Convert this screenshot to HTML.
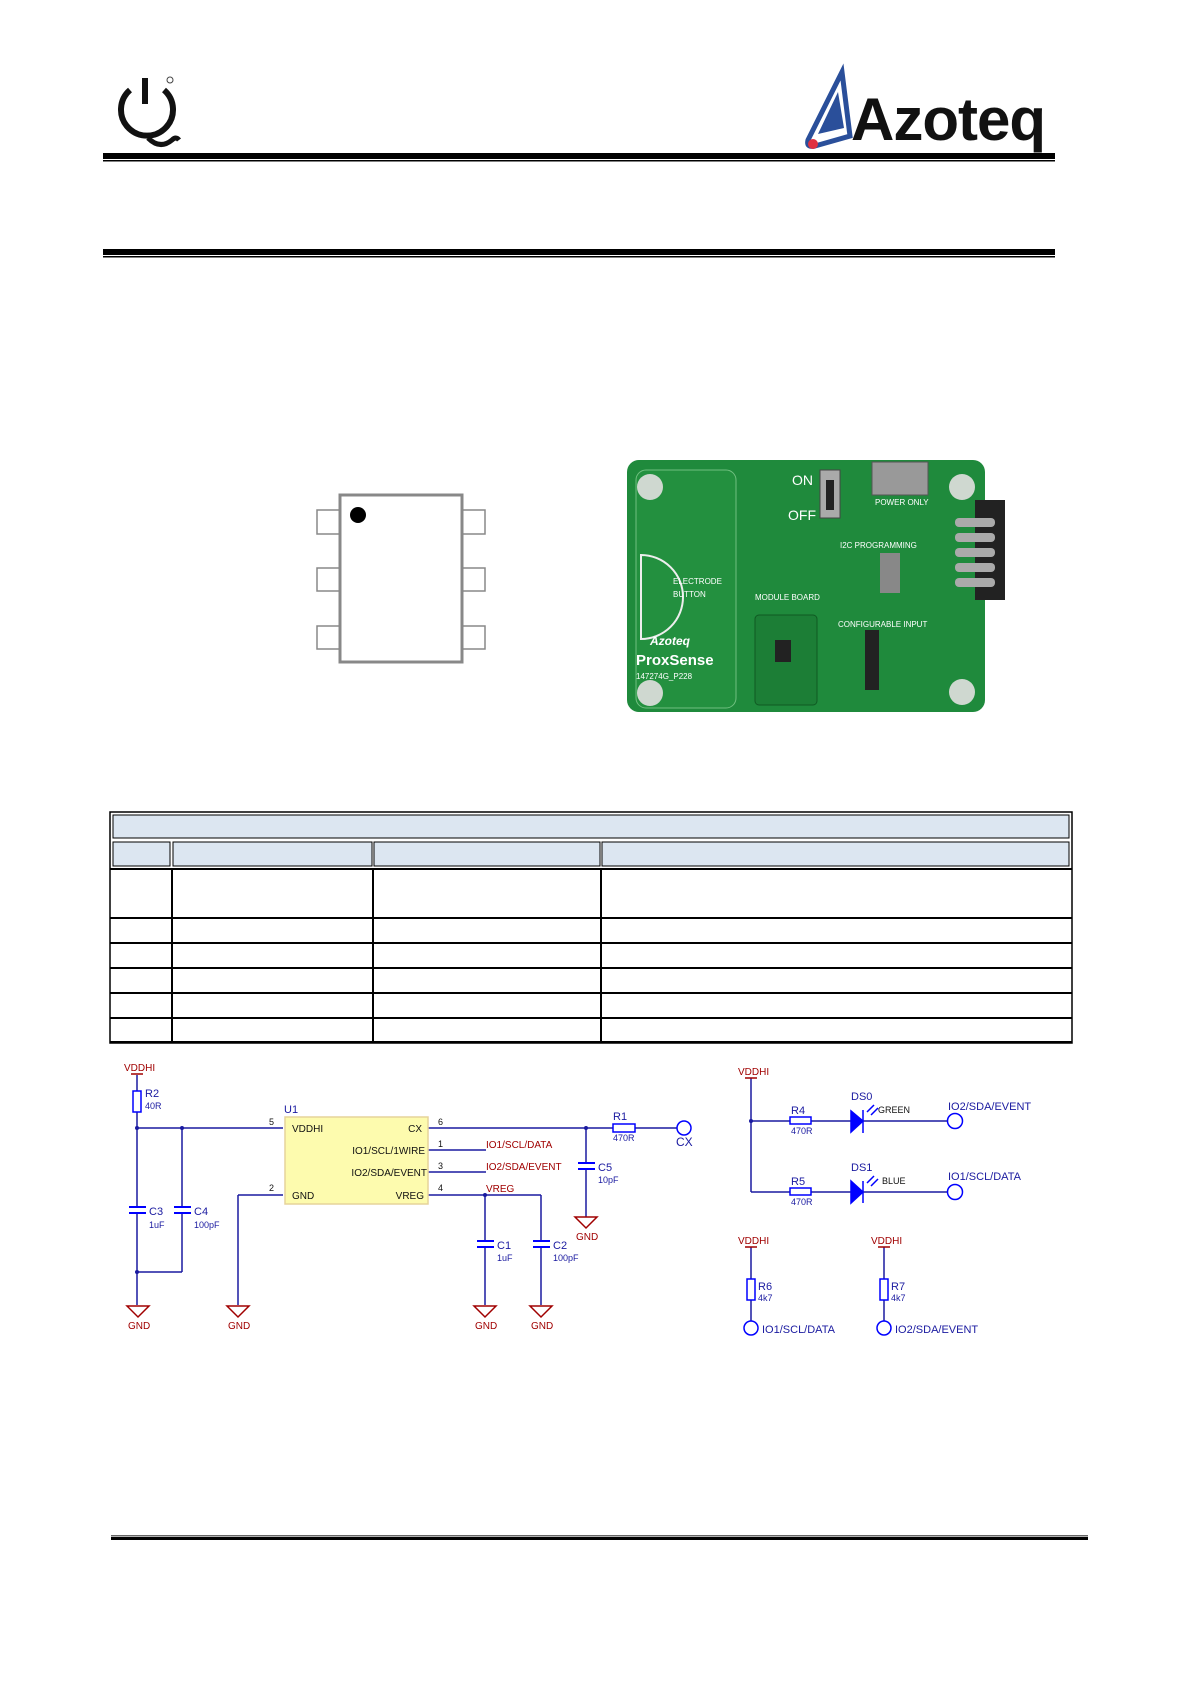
<!DOCTYPE html>
<html><head><meta charset="utf-8"><style>
html,body{margin:0;padding:0;background:#fff}
svg{display:block}
text{font-family:"Liberation Sans",Arial,sans-serif}
</style></head><body>
<svg width="1192" height="1684" viewBox="0 0 1192 1684" xmlns="http://www.w3.org/2000/svg">
<rect x="142" y="78" width="6" height="26" fill="#111"/>
<path d="M130 90 A26 26 0 1 0 164 90" fill="none" stroke="#111" stroke-width="6"/>
<path d="M148 138 Q160 150 172 140 Q176 136 179 140" fill="none" stroke="#111" stroke-width="5"/>
<circle cx="170" cy="80" r="3" fill="none" stroke="#444" stroke-width="1"/>
<path d="M842 72 L808 140 Q806 148 815 146 L850 136 Z" fill="#fff" stroke="#2a4f9a" stroke-width="5"/>
<path d="M838 92 L818 134 L844 128 Z" fill="#2a4f9a"/>
<circle cx="813" cy="144" r="5" fill="#e03040"/>
<text x="851" y="140" font-size="60" font-weight="bold" fill="#111" letter-spacing="-1">Azoteq</text>
<rect x="103" y="153" width="952" height="6" fill="#000"/>
<rect x="103" y="160" width="952" height="1.5" fill="#000"/>
<rect x="103" y="249" width="952" height="6" fill="#000"/>
<rect x="103" y="256" width="952" height="1.5" fill="#000"/>
<g fill="#fff" stroke="#888" stroke-width="1.5">
<rect x="317" y="510" width="23" height="24"/><rect x="317" y="568" width="23" height="23"/><rect x="317" y="626" width="23" height="23"/>
<rect x="462" y="510" width="23" height="24"/><rect x="462" y="568" width="23" height="23"/><rect x="462" y="626" width="23" height="23"/>
</g>
<rect x="340" y="495" width="122" height="167" fill="#fff" stroke="#888" stroke-width="3"/>
<circle cx="358" cy="515" r="8" fill="#000"/>
<rect x="627" y="460" width="358" height="252" rx="12" fill="#1f8a3c"/>
<rect x="636" y="470" width="100" height="238" rx="10" fill="#23903f" stroke="#6fbf7f" stroke-width="1"/>
<path d="M641 555 A42 42 0 0 1 641 639 Z" fill="none" stroke="#eee" stroke-width="2"/>
<circle cx="650" cy="487" r="13" fill="#cfd8d0"/><circle cx="650" cy="693" r="13" fill="#cfd8d0"/>
<circle cx="962" cy="487" r="13" fill="#cfd8d0"/><circle cx="962" cy="692" r="13" fill="#cfd8d0"/>
<rect x="820" y="470" width="20" height="48" fill="#aaa" stroke="#444"/>
<rect x="826" y="480" width="8" height="30" fill="#222"/>
<rect x="872" y="462" width="56" height="33" fill="#999" stroke="#555"/>
<rect x="975" y="500" width="30" height="100" fill="#222"/>
<g fill="#aaa"><rect x="955" y="518" width="40" height="9" rx="4"/><rect x="955" y="533" width="40" height="9" rx="4"/><rect x="955" y="548" width="40" height="9" rx="4"/><rect x="955" y="563" width="40" height="9" rx="4"/><rect x="955" y="578" width="40" height="9" rx="4"/></g>
<rect x="880" y="553" width="20" height="40" fill="#888"/>
<rect x="755" y="615" width="62" height="90" rx="4" fill="#1c7e36" stroke="#0f5a22"/>
<rect x="775" y="640" width="16" height="22" fill="#222"/>
<rect x="865" y="630" width="14" height="60" fill="#222"/>
<g fill="#fff" font-size="8">
<text x="792" y="485" font-size="14">ON</text><text x="788" y="520" font-size="14">OFF</text>
<text x="875" y="505">POWER ONLY</text><text x="840" y="548">I2C PROGRAMMING</text>
<text x="755" y="600">MODULE BOARD</text><text x="838" y="627">CONFIGURABLE INPUT</text>
<text x="673" y="584">ELECTRODE</text><text x="673" y="597">BUTTON</text>
<text x="650" y="645" font-size="12" font-weight="bold" font-style="italic">Azoteq</text>
<text x="636" y="665" font-size="15" font-weight="bold">ProxSense</text>
<text x="636" y="679" font-size="8">147274G_P228</text>
</g>
<g fill="#dce6f1" stroke="#000" stroke-width="1">
<rect x="110" y="812" width="962" height="231" fill="#fff" stroke-width="1.5"/>
<rect x="113" y="815" width="956" height="23"/>
<rect x="113" y="842" width="57" height="24"/><rect x="173" y="842" width="199" height="24"/>
<rect x="374" y="842" width="226" height="24"/><rect x="602" y="842" width="467" height="24"/>
</g>
<g stroke="#000" stroke-width="2">
<line x1="110" y1="869" x2="1072" y2="869"/><line x1="110" y1="918" x2="1072" y2="918"/>
<line x1="110" y1="943" x2="1072" y2="943"/><line x1="110" y1="968" x2="1072" y2="968"/>
<line x1="110" y1="993" x2="1072" y2="993"/><line x1="110" y1="1018" x2="1072" y2="1018"/>
<line x1="110" y1="1042" x2="1072" y2="1042"/>
<line x1="172" y1="869" x2="172" y2="1042"/><line x1="373" y1="869" x2="373" y2="1042"/>
<line x1="601" y1="869" x2="601" y2="1042"/>
</g>
<g fill="none" stroke="#1a1aa0" stroke-width="1.5">
<line x1="137" y1="1075" x2="137" y2="1091"/><line x1="137" y1="1112" x2="137" y2="1305"/>
<line x1="137" y1="1128" x2="283" y2="1128"/>
<line x1="182" y1="1128" x2="182" y2="1272"/><line x1="137" y1="1272" x2="182" y2="1272"/>
<line x1="238" y1="1195" x2="283" y2="1195"/><line x1="238" y1="1195" x2="238" y2="1305"/>
<line x1="428" y1="1128" x2="613" y2="1128"/><line x1="635" y1="1128" x2="677" y2="1128"/>
<line x1="428" y1="1150" x2="486" y2="1150"/><line x1="428" y1="1172" x2="486" y2="1172"/>
<line x1="428" y1="1195" x2="541" y2="1195"/>
<line x1="485" y1="1195" x2="485" y2="1305"/><line x1="541" y1="1195" x2="541" y2="1305"/>
<line x1="586" y1="1128" x2="586" y2="1217"/>
</g>
<g fill="#1a1aa0"><circle cx="137" cy="1128" r="2"/><circle cx="182" cy="1128" r="2"/><circle cx="137" cy="1272" r="2"/><circle cx="485" cy="1195" r="2"/><circle cx="586" cy="1128" r="2"/></g>
<g fill="#fff"><rect x="128" y="1208" width="20" height="5"/><rect x="173" y="1208" width="20" height="5"/><rect x="476" y="1242" width="20" height="5"/><rect x="532" y="1242" width="20" height="5"/><rect x="577" y="1164" width="20" height="5"/></g>
<g stroke="#0000ff" stroke-width="2">
<line x1="129" y1="1207" x2="146" y2="1207"/><line x1="129" y1="1213" x2="146" y2="1213"/>
<line x1="174" y1="1207" x2="191" y2="1207"/><line x1="174" y1="1213" x2="191" y2="1213"/>
<line x1="477" y1="1241" x2="494" y2="1241"/><line x1="477" y1="1247" x2="494" y2="1247"/>
<line x1="533" y1="1241" x2="550" y2="1241"/><line x1="533" y1="1247" x2="550" y2="1247"/>
<line x1="578" y1="1163" x2="595" y2="1163"/><line x1="578" y1="1169" x2="595" y2="1169"/>
</g>
<g fill="#fff" stroke="#0000ff" stroke-width="1.5">
<rect x="133" y="1091" width="8" height="21"/><rect x="613" y="1124" width="22" height="8"/>
<circle cx="684" cy="1128" r="7"/>
</g>
<g stroke="#a00000" stroke-width="1.5" fill="none">
<line x1="131" y1="1074" x2="143" y2="1074"/>
<path d="M127 1306 L149 1306 L138 1317 Z"/><path d="M227 1306 L249 1306 L238 1317 Z"/>
<path d="M474 1306 L496 1306 L485 1317 Z"/><path d="M530 1306 L552 1306 L541 1317 Z"/>
<path d="M575 1217 L597 1217 L586 1228 Z"/>
</g>
<rect x="285" y="1117" width="143" height="87" fill="#fdfbae" stroke="#e6d49a" stroke-width="1.5"/>
<g font-size="10" fill="#a00000">
<text x="124" y="1071">VDDHI</text>
<text x="128" y="1329">GND</text><text x="228" y="1329">GND</text><text x="475" y="1329">GND</text><text x="531" y="1329">GND</text><text x="576" y="1240">GND</text>
<text x="486" y="1148">IO1/SCL/DATA</text><text x="486" y="1170">IO2/SDA/EVENT</text><text x="486" y="1192">VREG</text>
</g>
<g font-size="11" fill="#1a1aa0">
<text x="145" y="1097">R2</text><text x="145" y="1109" font-size="9">40R</text>
<text x="149" y="1215">C3</text><text x="149" y="1228" font-size="9">1uF</text>
<text x="194" y="1215">C4</text><text x="194" y="1228" font-size="9">100pF</text>
<text x="497" y="1249">C1</text><text x="497" y="1261" font-size="9">1uF</text>
<text x="553" y="1249">C2</text><text x="553" y="1261" font-size="9">100pF</text>
<text x="598" y="1171">C5</text><text x="598" y="1183" font-size="9">10pF</text>
<text x="613" y="1120">R1</text><text x="613" y="1141" font-size="9">470R</text>
<text x="676" y="1146" font-size="12">CX</text>
<text x="284" y="1113">U1</text>
</g>
<g font-size="10" fill="#111">
<text x="292" y="1132">VDDHI</text><text x="292" y="1199">GND</text>
<text x="422" y="1132" text-anchor="end">CX</text><text x="425" y="1154" text-anchor="end">IO1/SCL/1WIRE</text>
<text x="427" y="1176" text-anchor="end">IO2/SDA/EVENT</text><text x="424" y="1199" text-anchor="end">VREG</text>
<g font-size="9"><text x="269" y="1125">5</text><text x="269" y="1191">2</text><text x="438" y="1125">6</text><text x="438" y="1147">1</text><text x="438" y="1169">3</text><text x="438" y="1191">4</text></g>
</g>
<g fill="none" stroke="#1a1aa0" stroke-width="1.5">
<line x1="751" y1="1078" x2="751" y2="1192"/>
<line x1="751" y1="1121" x2="790" y2="1121"/><line x1="811" y1="1121" x2="851" y2="1121"/><line x1="863" y1="1121" x2="948" y2="1121"/>
<line x1="751" y1="1192" x2="790" y2="1192"/><line x1="811" y1="1192" x2="851" y2="1192"/><line x1="863" y1="1192" x2="948" y2="1192"/>
<line x1="751" y1="1247" x2="751" y2="1279"/><line x1="751" y1="1300" x2="751" y2="1321"/>
<line x1="884" y1="1247" x2="884" y2="1279"/><line x1="884" y1="1300" x2="884" y2="1321"/>
</g>
<circle cx="751" cy="1121" r="2" fill="#1a1aa0"/>
<g fill="#fff" stroke="#0000ff" stroke-width="1.5">
<rect x="790" y="1117" width="21" height="7"/><rect x="790" y="1188" width="21" height="7"/>
<rect x="747" y="1279" width="8" height="21"/><rect x="880" y="1279" width="8" height="21"/>
<circle cx="955" cy="1121" r="7.5"/><circle cx="955" cy="1192" r="7.5"/>
<circle cx="751" cy="1328" r="7"/><circle cx="884" cy="1328" r="7"/>
</g>
<g fill="#0000ff" stroke="#0000ff" stroke-width="1.5">
<path d="M851 1111 L863 1121 L851 1132 Z"/><line x1="863" y1="1110" x2="863" y2="1133"/>
<path d="M851 1181 L863 1192 L851 1203 Z"/><line x1="863" y1="1181" x2="863" y2="1203"/>
<line x1="867" y1="1112" x2="874" y2="1105"/><line x1="871" y1="1115" x2="878" y2="1108"/>
<line x1="867" y1="1183" x2="874" y2="1176"/><line x1="871" y1="1186" x2="878" y2="1179"/>
</g>
<g stroke="#a00000" stroke-width="1.5"><line x1="745" y1="1078" x2="757" y2="1078"/><line x1="745" y1="1247" x2="757" y2="1247"/><line x1="878" y1="1247" x2="890" y2="1247"/></g>
<g font-size="10" fill="#a00000"><text x="738" y="1075">VDDHI</text><text x="738" y="1244">VDDHI</text><text x="871" y="1244">VDDHI</text></g>
<g font-size="11" fill="#1a1aa0">
<text x="791" y="1114">R4</text><text x="791" y="1134" font-size="9">470R</text>
<text x="791" y="1185">R5</text><text x="791" y="1205" font-size="9">470R</text>
<text x="851" y="1100">DS0</text><text x="851" y="1171">DS1</text>
<text x="948" y="1110">IO2/SDA/EVENT</text><text x="948" y="1180">IO1/SCL/DATA</text>
<text x="758" y="1290">R6</text><text x="758" y="1301" font-size="9">4k7</text>
<text x="891" y="1290">R7</text><text x="891" y="1301" font-size="9">4k7</text>
<text x="762" y="1333">IO1/SCL/DATA</text><text x="895" y="1333">IO2/SDA/EVENT</text>
</g>
<g font-size="9" fill="#111"><text x="878" y="1113">GREEN</text><text x="882" y="1184">BLUE</text></g>
<rect x="111" y="1535" width="977" height="1.5" fill="#666"/>
<rect x="111" y="1537" width="977" height="3" fill="#000"/>
</svg>
</body></html>
